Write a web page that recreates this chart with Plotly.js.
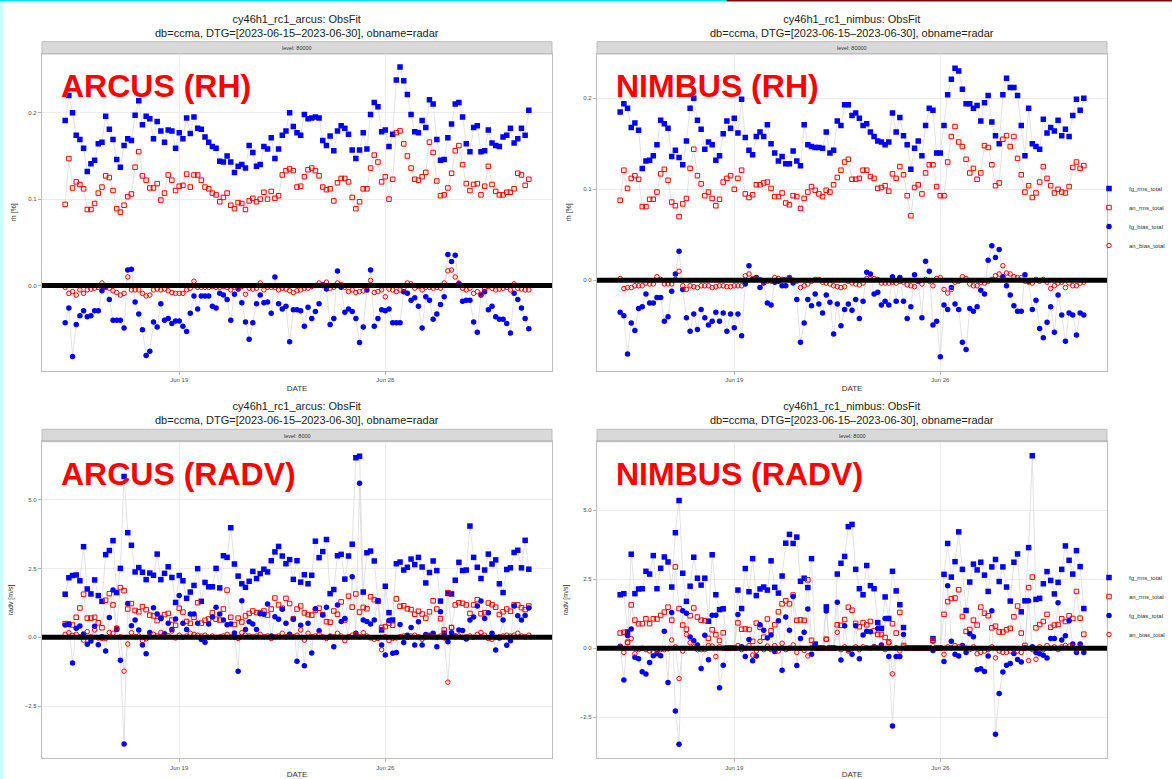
<!DOCTYPE html>
<html><head><meta charset="utf-8">
<script src="https://cdn.plot.ly/plotly-3.0.1.min.js"></script>
<style>html,body{margin:0;padding:0;background:#fff;overflow:hidden}#chart{width:1172px;height:779px}</style>
</head><body><div id="chart"></div>
<script>
// ---- time axis: 3-hourly analysis times, 2023-06-15 03 UTC ... 2023-06-30 21 UTC
const nTimes = 127;
const times = [];
for (let i = 0; i < nTimes; i++) {
  const d = new Date(Date.UTC(2023, 5, 15, 3 + 3 * i));
  times.push(d.toISOString().slice(0, 16).replace('T', ' '));
}
const seriesNames = ['fg_rms_total', 'an_rms_total', 'fg_bias_total', 'an_bias_total'];
const xTickVals = ['2023-06-19', '2023-06-26'];
const xTickText = ['Jun 19', 'Jun 26'];

// ---- ARCUS, rh, level 80000
const arcusRhFgRms = [0.191,0.220,0.200,0.174,0.169,0.159,0.132,0.141,0.145,0.164,
0.166,0.196,0.181,0.169,0.146,0.137,0.162,0.170,0.168,0.197,
0.214,0.186,0.196,0.193,0.170,0.190,0.179,0.166,0.180,0.179,
0.159,0.177,0.170,0.194,0.176,0.195,0.182,0.181,0.172,0.166,
0.161,0.159,0.144,0.143,0.150,0.143,0.131,0.138,0.140,0.136,
0.162,0.154,0.138,0.140,0.161,0.158,0.171,0.147,0.158,0.174,
0.179,0.200,0.184,0.177,0.174,0.198,0.193,0.194,0.195,0.194,
0.168,0.162,0.173,0.156,0.179,0.185,0.182,0.175,0.157,0.147,
0.157,0.177,0.158,0.198,0.212,0.207,0.178,0.180,0.161,0.175,
0.238,0.253,0.237,0.221,0.198,0.178,0.177,0.191,0.183,0.215,
0.210,0.169,0.145,0.146,0.171,0.187,0.210,0.212,0.195,0.164,
0.155,0.183,0.185,0.155,0.156,0.180,0.165,0.162,0.161,0.172,
0.174,0.182,0.165,0.170,0.182,0.174,0.203];
const arcusRhAnRms = [0.094,0.147,0.113,0.120,0.117,0.112,0.088,0.088,0.095,0.107,
0.114,0.127,0.125,0.110,0.089,0.085,0.093,0.103,0.106,0.137,
0.155,0.127,0.122,0.113,0.113,0.118,0.099,0.107,0.128,0.122,
0.110,0.115,0.116,0.129,0.114,0.128,0.128,0.122,0.114,0.112,
0.107,0.105,0.097,0.102,0.107,0.093,0.089,0.096,0.095,0.088,
0.098,0.101,0.097,0.100,0.108,0.100,0.109,0.101,0.104,0.128,
0.133,0.135,0.133,0.114,0.115,0.126,0.134,0.136,0.133,0.127,
0.114,0.111,0.112,0.098,0.119,0.124,0.124,0.120,0.102,0.089,
0.097,0.112,0.112,0.136,0.151,0.143,0.120,0.126,0.100,0.123,
0.177,0.179,0.164,0.150,0.136,0.123,0.122,0.126,0.131,0.166,
0.154,0.121,0.104,0.105,0.113,0.130,0.156,0.162,0.140,0.118,
0.110,0.117,0.118,0.105,0.115,0.138,0.117,0.109,0.105,0.105,
0.108,0.108,0.112,0.130,0.128,0.116,0.123];
const arcusRhFgBias = [-0.043,-0.026,-0.082,-0.045,-0.035,-0.029,-0.036,-0.035,-0.029,-0.029,
-0.006,-0.002,-0.016,-0.040,-0.040,-0.040,-0.049,0.018,0.019,-0.019,
-0.033,-0.051,-0.081,-0.076,-0.042,-0.048,-0.021,-0.040,-0.038,-0.044,
-0.041,-0.041,-0.047,-0.053,-0.032,-0.012,-0.027,-0.012,-0.012,-0.012,
-0.024,-0.026,-0.009,-0.011,-0.016,-0.040,-0.010,-0.004,-0.020,-0.042,
-0.062,-0.043,-0.021,-0.011,-0.020,-0.019,-0.032,0.010,-0.021,-0.027,
-0.024,-0.065,-0.028,-0.028,-0.029,-0.047,-0.025,-0.038,-0.030,-0.021,
0.001,-0.004,-0.045,-0.038,0.017,-0.002,-0.031,-0.027,-0.030,-0.038,
-0.066,-0.048,-0.005,0.018,-0.047,-0.038,-0.028,-0.029,-0.027,-0.043,
-0.043,-0.043,-0.007,-0.009,-0.017,-0.014,-0.024,-0.049,-0.013,-0.017,
-0.039,-0.033,-0.022,-0.013,0.036,0.028,0.035,0.002,-0.018,-0.017,
-0.017,-0.042,-0.054,-0.011,-0.007,-0.028,-0.024,-0.036,-0.039,-0.039,
-0.044,-0.055,-0.009,-0.016,-0.026,-0.038,-0.050];
const arcusRhAnBias = [-0.002,-0.009,-0.007,-0.011,-0.005,-0.009,-0.005,-0.004,-0.003,-0.002,
0.003,-0.002,-0.003,-0.006,-0.008,-0.011,-0.009,0.010,-0.005,-0.005,
-0.005,-0.009,-0.012,-0.011,-0.005,-0.004,-0.005,-0.004,-0.006,-0.008,
-0.009,-0.009,-0.009,-0.005,-0.003,0.005,-0.002,-0.002,-0.002,-0.002,
-0.001,-0.002,-0.002,-0.001,-0.002,-0.005,-0.002,-0.003,-0.001,-0.010,
-0.003,-0.004,-0.003,0.003,-0.005,-0.002,-0.002,-0.002,-0.005,-0.003,
-0.004,-0.006,-0.008,-0.006,-0.005,-0.003,-0.003,-0.001,0.000,0.003,
0.000,0.004,-0.003,-0.002,0.003,0.001,-0.002,-0.007,-0.005,-0.008,
-0.007,-0.006,-0.001,0.006,-0.008,-0.007,-0.005,-0.013,-0.004,-0.005,
-0.007,-0.005,-0.003,0.003,0.002,-0.003,-0.001,-0.005,-0.002,-0.002,
-0.003,-0.002,-0.003,0.003,0.017,0.018,0.010,0.003,-0.003,-0.005,
-0.003,-0.009,-0.007,-0.010,-0.004,-0.001,-0.003,-0.005,-0.004,-0.003,
-0.002,-0.005,0.002,-0.003,-0.004,-0.005,-0.005];

// ---- NIMBUS, rh, level 80000
const nimbusRhFgRms = [0.185,0.194,0.189,0.168,0.173,0.165,0.123,0.131,0.132,0.137,
0.149,0.176,0.172,0.167,0.136,0.143,0.135,0.127,0.153,0.189,
0.200,0.176,0.166,0.144,0.152,0.149,0.132,0.137,0.161,0.175,
0.167,0.178,0.162,0.199,0.157,0.143,0.138,0.158,0.163,0.158,
0.171,0.150,0.140,0.131,0.136,0.128,0.128,0.142,0.131,0.126,
0.171,0.149,0.147,0.146,0.146,0.145,0.163,0.140,0.143,0.175,
0.170,0.193,0.193,0.181,0.184,0.178,0.170,0.172,0.163,0.158,
0.153,0.152,0.149,0.152,0.184,0.163,0.179,0.159,0.149,0.122,
0.145,0.153,0.137,0.170,0.189,0.187,0.140,0.140,0.170,0.204,
0.221,0.233,0.230,0.210,0.194,0.194,0.189,0.192,0.175,0.195,
0.203,0.174,0.159,0.150,0.204,0.222,0.212,0.212,0.203,0.170,
0.137,0.189,0.150,0.147,0.144,0.177,0.162,0.168,0.164,0.176,
0.159,0.166,0.158,0.181,0.199,0.187,0.200];
const nimbusRhAnRms = [0.088,0.121,0.101,0.112,0.115,0.111,0.081,0.081,0.089,0.089,
0.097,0.117,0.122,0.110,0.086,0.082,0.070,0.084,0.090,0.123,
0.144,0.115,0.106,0.093,0.097,0.090,0.082,0.089,0.108,0.112,
0.115,0.100,0.112,0.121,0.095,0.091,0.094,0.105,0.105,0.107,
0.108,0.101,0.092,0.092,0.096,0.085,0.083,0.093,0.092,0.079,
0.090,0.097,0.103,0.099,0.095,0.092,0.099,0.097,0.105,0.113,
0.121,0.130,0.133,0.111,0.111,0.112,0.121,0.121,0.114,0.112,
0.101,0.102,0.104,0.098,0.117,0.112,0.125,0.116,0.093,0.071,
0.102,0.105,0.095,0.118,0.127,0.127,0.103,0.093,0.093,0.130,
0.158,0.169,0.152,0.147,0.133,0.118,0.123,0.111,0.118,0.148,
0.146,0.127,0.104,0.107,0.155,0.159,0.147,0.158,0.134,0.116,
0.097,0.104,0.091,0.096,0.108,0.125,0.112,0.104,0.096,0.100,
0.097,0.096,0.103,0.124,0.130,0.123,0.126];
const nimbusRhFgBias = [-0.035,-0.039,-0.081,-0.047,-0.055,-0.031,-0.029,-0.015,-0.025,-0.025,
-0.019,-0.019,-0.045,-0.040,-0.012,0.007,0.032,-0.010,-0.041,-0.056,
-0.037,-0.054,-0.032,-0.041,-0.049,-0.045,-0.035,-0.045,-0.036,-0.056,
-0.037,-0.052,-0.037,-0.061,-0.004,0.016,0.001,0.003,-0.008,-0.003,
-0.025,-0.027,-0.002,-0.001,-0.006,-0.006,0.003,-0.003,-0.021,-0.068,
-0.047,-0.021,-0.028,-0.015,-0.026,-0.036,-0.016,-0.024,-0.059,-0.026,
-0.050,-0.032,-0.026,-0.033,-0.021,-0.042,-0.023,0.009,0.007,-0.015,
-0.013,-0.027,-0.023,-0.027,0.004,-0.023,0.003,-0.023,-0.042,-0.029,
0.006,-0.001,-0.041,0.021,0.010,-0.049,-0.045,-0.084,-0.027,-0.032,
-0.008,-0.026,-0.032,-0.068,-0.076,-0.031,-0.034,-0.029,-0.011,-0.015,
0.022,0.038,0.025,0.034,0.004,-0.006,-0.016,-0.028,-0.034,-0.034,
0.006,-0.001,-0.032,-0.022,-0.053,-0.063,-0.046,-0.029,-0.057,-0.016,
-0.038,-0.067,-0.036,-0.038,-0.060,-0.036,-0.038];
const nimbusRhAnBias = [0.002,-0.009,-0.008,-0.008,-0.006,-0.006,-0.006,-0.003,-0.004,-0.004,
0.004,0.001,-0.004,-0.004,-0.004,0.001,0.010,-0.006,-0.010,-0.006,
-0.007,-0.008,-0.006,-0.006,-0.006,-0.008,-0.007,-0.006,-0.006,-0.007,
-0.007,-0.006,-0.006,-0.006,0.005,0.007,0.002,0.002,0.001,-0.002,
-0.001,-0.001,0.003,0.002,0.001,0.001,0.003,0.000,-0.001,-0.008,
-0.006,-0.004,-0.001,0.001,0.001,-0.002,-0.003,-0.004,-0.006,-0.007,
-0.008,-0.007,-0.001,-0.003,-0.004,-0.005,-0.003,0.002,0.002,0.002,
0.001,-0.003,-0.003,-0.003,-0.002,-0.003,-0.001,-0.002,-0.005,-0.006,
-0.007,-0.001,-0.004,0.001,-0.001,-0.006,0.002,0.003,-0.010,-0.014,
-0.010,-0.002,-0.001,0.004,0.002,-0.004,-0.006,-0.006,-0.002,-0.003,
-0.001,0.001,0.005,0.007,0.016,0.008,0.007,0.004,0.003,0.003,
-0.001,-0.002,-0.003,0.001,-0.001,0.001,-0.002,-0.009,-0.006,-0.003,
-0.002,-0.008,-0.003,-0.006,-0.006,-0.003,-0.002];

// ---- ARCUS, radv, level 8000
const arcusRadvFgRms = [1.57,2.17,2.25,2.27,2.06,3.30,1.76,1.58,2.09,1.52,
1.31,3.01,3.16,3.52,1.63,2.51,5.85,3.81,3.35,2.38,
2.54,2.37,2.10,2.34,2.26,3.03,2.10,2.33,2.57,2.18,
1.27,2.25,2.06,1.42,1.65,1.89,2.50,1.31,2.00,1.84,
1.84,2.51,1.80,2.97,2.91,3.99,2.67,2.23,1.95,1.82,
2.04,2.40,2.14,2.32,2.48,2.38,2.79,3.11,3.31,2.96,
2.68,2.83,2.11,2.79,2.01,2.28,1.95,2.26,3.50,2.90,
3.12,3.56,1.59,1.74,2.97,3.02,2.12,2.96,3.39,6.54,
6.59,1.65,3.08,3.14,2.78,1.32,0.27,1.86,0.90,0.63,
2.68,2.74,2.45,2.55,2.85,2.65,2.91,2.56,1.98,2.36,
2.78,2.43,1.32,0.15,1.60,1.58,2.08,2.73,2.43,2.45,
4.05,2.91,2.55,2.14,2.45,3.03,2.67,2.82,1.95,1.63,
2.47,2.53,3.09,3.17,2.53,3.53,2.48];
const arcusRadvAnRms = [0.50,0.49,0.45,0.73,1.07,1.57,0.70,0.70,0.73,0.53,
0.35,1.35,1.59,1.18,0.32,1.81,1.70,1.03,1.23,0.98,
0.93,1.12,1.01,0.81,0.78,0.61,0.72,0.83,0.87,0.63,
0.44,1.06,0.92,0.58,0.51,0.73,1.26,0.52,0.62,0.67,
0.90,0.66,0.63,1.03,1.72,0.73,0.47,0.70,0.56,0.78,
0.87,0.96,0.90,0.90,0.96,0.81,1.03,1.43,1.18,1.06,
1.42,1.23,0.68,1.03,1.14,0.89,0.83,0.81,0.98,1.06,
0.83,0.57,0.55,0.96,0.84,1.29,0.63,1.50,1.10,1.58,
0.92,1.09,1.04,1.48,1.37,1.31,0.36,0.39,0.51,0.44,
1.40,1.13,1.15,1.04,1.01,0.84,0.95,0.85,0.70,0.93,
1.33,1.03,0.68,0.27,1.63,0.36,1.18,1.26,1.24,1.18,
0.87,1.18,1.37,0.86,0.90,1.25,1.19,1.10,0.83,0.93,
1.03,0.95,1.18,1.18,1.08,1.01,1.14];
const arcusRadvFgBias = [0.45,0.47,-0.93,0.33,0.41,0.12,-0.25,-0.13,0.40,-0.27,
0.02,-0.50,0.72,1.72,0.29,-0.83,-3.88,1.23,0.42,0.63,
0.27,-0.28,-0.60,0.18,1.08,0.85,0.69,0.13,0.51,0.29,
0.67,1.52,0.51,0.29,0.85,0.85,0.51,-0.08,-0.18,0.49,
0.74,1.10,0.85,0.63,0.46,0.49,0.16,-1.23,1.33,0.29,
0.57,0.49,0.29,0.86,0.84,1.21,0.05,0.75,0.66,1.02,
0.51,0.11,0.66,-0.87,0.44,-1.03,0.51,-0.57,1.04,0.24,
0.81,1.10,0.02,-0.34,1.18,0.58,0.69,0.02,2.21,0.15,
5.61,0.63,0.58,0.49,0.63,1.33,-0.28,-0.64,0.61,-0.58,
-0.55,0.47,-0.19,0.08,0.36,-0.28,0.57,-0.28,0.10,0.08,
0.15,-0.34,0.93,0.05,-0.16,0.17,0.05,0.27,0.25,-0.06,
0.63,0.74,1.14,1.32,0.69,0.90,0.15,-0.46,-0.02,0.63,
-0.29,-0.12,1.14,0.79,0.63,0.80,1.07];
const arcusRadvAnBias = [0.11,0.17,0.07,0.11,0.02,-0.10,0.21,0.02,0.27,-0.02,
-0.04,-0.04,0.18,0.15,0.34,0.02,-1.23,-0.24,0.17,0.02,
0.05,-0.12,-0.05,0.05,0.11,0.05,0.18,0.02,0.06,0.23,
-0.02,0.08,0.00,0.05,0.15,0.11,0.08,0.05,0.08,0.00,
0.05,0.00,0.02,0.05,0.11,0.02,0.00,-0.04,0.17,0.08,
0.05,0.02,0.05,0.11,0.02,0.05,-0.04,0.02,0.05,0.15,
0.02,0.05,0.02,0.08,0.27,-0.10,0.15,0.02,0.05,0.11,
0.02,-0.04,0.05,0.02,0.15,0.05,-0.12,0.02,0.08,0.11,
0.02,0.17,0.05,-0.02,-0.07,-0.04,-0.45,0.02,-0.12,-0.04,
-0.02,0.02,0.05,0.00,0.05,0.08,0.02,-0.07,0.02,0.05,
0.02,0.00,0.05,-0.02,-1.63,0.36,0.02,0.05,0.00,0.02,
0.05,0.00,0.11,0.18,0.08,-0.04,-0.07,0.00,0.02,0.05,
0.08,0.05,0.08,0.15,0.05,0.02,0.08];

// ---- NIMBUS, radv, level 8000
const nimbusRadvFgRms = [1.94,1.98,0.59,3.41,1.98,2.15,2.16,2.79,2.69,3.36,
2.16,2.90,3.31,3.13,2.22,4.19,5.36,2.72,1.70,2.25,
3.30,2.54,2.29,2.54,0.98,3.39,1.94,1.40,1.43,0,
0,0,2.11,1.44,2.89,2.05,3.25,1.91,2.15,2.22,
2.11,3.17,2.21,2.00,2.62,3.81,4.13,3.80,4.03,2.43,
2.54,2.20,3.25,0.15,0,0,1.50,0,0,2.69,
3.08,3.33,4.41,4.49,2.86,2.16,1.94,3.00,2.27,2.16,
0.93,0.72,1.86,1.08,2.79,2.08,1.58,0.75,0,0,
0,0,0,0,0,0.35,0,0,2.68,3.80,
2.58,3.14,4.22,2.86,1.37,2.40,3.05,2.84,3.12,2.65,
2.06,2.95,3.22,2.42,2.95,2.22,1.71,3.12,3.42,1.32,
1.72,3.65,6.98,1.77,1.81,2.34,2.78,2.46,1.97,2.39,
2.86,3.71,3.19,2.69,3.54,2.96,1.44];
const nimbusRadvAnRms = [0.55,0.58,0.22,1.57,1.02,0.89,0.89,1.07,0.89,1.07,
1.06,1.19,1.31,1.49,1.02,2.95,1.44,0.84,0.69,1.18,
1.46,1.13,1.02,1.00,0.36,0.67,0.49,0.28,0.56,0,
0,0,0.92,0.69,0.70,0.68,0.25,0.91,0.76,0.40,
1.06,0.63,0.85,1.32,1.61,1.72,1.61,1.93,1.01,1.03,
1.01,2.48,0.29,0.05,0,0,0.33,0,0,0.85,
0.83,1.04,1.49,1.38,0.90,0.78,0.93,0.85,0.97,0.63,
0.50,0.50,0.39,0.23,0.89,0.55,1.30,0.10,0,0,
0,0,0,0,0,0.29,0,0,1.23,1.69,
1.80,1.82,2.12,1.15,0.61,0.68,1.02,0.84,1.49,1.27,
1.18,0.74,0.80,0.59,0.59,0.67,0.72,1.14,1.53,0.55,
0.10,2.20,2.58,0.74,0.86,0.97,1.23,0.76,0.84,0.86,
1.07,0.97,1.18,1.08,2.06,1.09,0.51];
const nimbusRadvFgBias = [0.07,-1.15,0.46,0.70,-0.33,-0.38,-0.85,-0.93,-0.52,-0.27,
-0.20,-0.27,0.62,-1.24,1.30,-2.28,-3.48,1.36,1.27,0.41,
0.27,0.12,-0.73,0.47,-0.42,1.20,1.20,-1.43,-0.62,0,
0,0,1.22,0.05,-0.30,0.32,-0.45,-0.28,0.85,0.65,
0.37,0.48,-0.12,1.00,-0.80,1.13,0.65,1.88,-0.63,0.35,
0.58,1.42,-0.22,0.12,0,0,1.35,0,0,1.67,
-0.43,0.82,-0.05,-0.22,0.82,-0.38,0.48,0.62,0.60,0.05,
0.72,0.12,1.08,-0.30,-2.82,-0.30,-0.30,0.50,0,0,
0,0,0,0,0,-0.08,0,0,-0.48,2.27,
0.25,-0.22,-0.28,0.10,-0.15,0.53,0.42,-0.78,-0.74,-0.84,
-0.28,1.36,-3.12,-1.64,-0.86,-0.62,-0.55,-0.19,-0.41,-0.50,
0.02,1.72,0.05,-0.15,-0.20,-0.25,-0.35,0.35,0.35,1.65,
0.30,0.45,1.00,0.15,-0.15,0.15,-0.15];
const nimbusRadvAnBias = [0.05,-0.15,0.20,0.35,-0.20,-0.05,0.00,-0.05,-0.10,-0.12,
-0.08,-0.05,-0.05,-0.02,0.30,0.05,-1.10,-0.10,0.50,0.20,
0.05,-0.05,-0.05,-0.05,0.10,0.08,-0.30,0.05,0,0,
0,0,0.10,-0.05,0.00,0.10,-0.25,-0.10,0.25,-0.05,
0.08,-0.05,0.10,-0.10,0.18,-0.05,0.00,0.12,-0.15,0.00,
-0.08,-0.28,0.02,0.00,0,0,0.32,0,0,0.58,
-0.05,0.05,-0.10,-0.02,0.05,-0.05,0.05,0.02,0.00,0.05,
0.02,0.05,-0.05,0.20,-0.93,0.02,-0.10,0.05,0,0,
0,0,0,0,0,0.25,0,0,-0.22,0.05,
0.02,0.10,0.05,0.05,0.00,-0.05,0.05,-0.20,-0.15,-0.10,
-0.05,0.05,-0.35,-0.10,-0.15,-0.15,-0.10,-0.05,-0.10,-0.15,
0.00,-0.45,-0.05,-0.40,0.05,-0.05,0.10,0.00,0.05,-0.05,
0.05,0.10,0.08,0.05,-0.05,0.05,0.00];

// ---------------------------------------------------------------
const W = 1172, H = 779;
const PX = p => p / W, PY = p => 1 - p / H;
const FONT = 'Liberation Sans, Arial, Helvetica, sans-serif';

const styles = [
  {symbol: 'square', color: '#0000ff', size: 5.5, lw: 0},
  {symbol: 'square-open', color: '#ff0000', size: 4.5, lw: 1},
  {symbol: 'circle', color: '#0000ff', size: 5.5, lw: 0},
  {symbol: 'circle-open', color: '#ff0000', size: 4.5, lw: 1}
];

const panels = [
  {data: [arcusRhFgRms, arcusRhAnRms, arcusRhFgBias, arcusRhAnBias], left: 42, right: 552, strip: 41.7, top: 54, bottom: 370.7,
   yrange: [-0.0985, 0.268], dtick: 0.1, ytitle: 'rh [%]', level: 'level: 80000', label: 'ARCUS (RH)',
   title: 'cy46h1_rc1_arcus: ObsFit', legend: null},
  {data: [nimbusRhFgRms, nimbusRhAnRms, nimbusRhFgBias, nimbusRhAnBias], left: 597, right: 1107, strip: 41.7, top: 54, bottom: 370.7,
   yrange: [-0.0993, 0.2487], dtick: 0.1, ytitle: 'rh [%]', level: 'level: 80000', label: 'NIMBUS (RH)',
   title: 'cy46h1_rc1_nimbus: ObsFit', legend: 'legend'},
  {data: [arcusRadvFgRms, arcusRadvAnRms, arcusRadvFgBias, arcusRadvAnBias], left: 42, right: 552, strip: 429.3, top: 441.7, bottom: 758,
   yrange: [-4.39, 7.12], dtick: 2.5, ytitle: 'radv [m/s]', level: 'level: 8000', label: 'ARCUS (RADV)',
   title: 'cy46h1_rc1_arcus: ObsFit', legend: null},
  {data: [nimbusRadvFgRms, nimbusRadvAnRms, nimbusRadvFgBias, nimbusRadvAnBias], left: 597, right: 1107, strip: 429.3, top: 441.7, bottom: 758,
   yrange: [-3.98, 7.49], dtick: 2.5, ytitle: 'radv [m/s]', level: 'level: 8000', label: 'NIMBUS (RADV)',
   title: 'cy46h1_rc1_nimbus: ObsFit', legend: 'legend2'}
];
const subtitle = 'db=ccma, DTG=[2023-06-15–2023-06-30], obname=radar';

const traces = [];
const layout = {
  width: W, height: H, margin: {l: 0, r: 0, t: 0, b: 0, autoexpand: false},
  paper_bgcolor: '#ffffff', plot_bgcolor: '#ffffff',
  font: {family: FONT, color: '#333333'},
  showlegend: true,
  shapes: [], annotations: []
};

panels.forEach((p, i) => {
  const n = i === 0 ? '' : String(i + 1);
  const xa = 'x' + n, ya = 'y' + n;
  // grey connecting lines
  p.data.forEach(vals => {
    traces.push({type: 'scatter', mode: 'lines', x: times, y: vals, xaxis: xa, yaxis: ya,
      line: {color: '#d6d6d6', width: 0.7}, showlegend: false, hoverinfo: 'skip'});
  });
  // markers
  p.data.forEach((vals, k) => {
    const s = styles[k];
    const t = {type: 'scatter', mode: 'markers', name: seriesNames[k], x: times, y: vals, xaxis: xa, yaxis: ya,
      marker: {symbol: s.symbol, color: s.color, size: s.size, line: {color: s.color, width: s.lw}},
      showlegend: !!p.legend};
    if (p.legend) t.legend = p.legend;
    traces.push(t);
  });

  layout['xaxis' + n] = {
    domain: [PX(p.left), PX(p.right)], anchor: ya, type: 'date',
    range: ['2023-06-14 08:06', '2023-07-01 15:54'],
    tickmode: 'array', tickvals: xTickVals, ticktext: xTickText,
    ticks: 'outside', ticklen: 3, tickwidth: 1, tickcolor: '#b3b3b3',
    tickfont: {size: 6, color: '#4d4d4d', family: FONT},
    showgrid: true, gridcolor: '#ececec', gridwidth: 1, zeroline: false,
    showline: true, mirror: true, linecolor: '#bdbdbd', linewidth: 1.3,
    title: {text: 'DATE', font: {size: 8, color: '#333333', family: FONT}, standoff: 3}
  };
  layout['yaxis' + n] = {
    domain: [PY(p.bottom), PY(p.top)], anchor: xa, range: p.yrange,
    tickmode: 'linear', tick0: 0, dtick: p.dtick, tickformat: '.1f',
    ticks: 'outside', ticklen: 3, tickwidth: 1, tickcolor: '#b3b3b3',
    tickfont: {size: 6, color: '#4d4d4d', family: FONT},
    showgrid: true, gridcolor: '#ececec', gridwidth: 1, zeroline: false,
    showline: true, mirror: true, linecolor: '#bdbdbd', linewidth: 1.3,
    title: {text: p.ytitle, font: {size: 7, color: '#333333', family: FONT}, standoff: 10}
  };

  // thick black reference line at zero
  layout.shapes.push({type: 'line', xref: xa + ' domain', x0: 0, x1: 1, yref: ya, y0: 0, y1: 0,
    line: {color: '#000000', width: 5}, layer: 'above'});
  // facet strip
  layout.shapes.push({type: 'rect', xref: 'paper', yref: 'paper', x0: PX(p.left), x1: PX(p.right),
    y0: PY(p.top), y1: PY(p.strip), fillcolor: '#d9d9d9', line: {color: '#bdbdbd', width: 1}, layer: 'below'});
  layout.annotations.push({xref: 'paper', yref: 'paper', x: PX((p.left + p.right) / 2), y: PY((p.strip + p.top) / 2),
    text: p.level, showarrow: false, font: {size: 5.5, color: '#333333', family: FONT}, xanchor: 'center', yanchor: 'middle'});
  // titles
  layout.annotations.push({xref: 'paper', yref: 'paper', x: PX((p.left + p.right) / 2), y: PY(p.strip - 1),
    text: p.title + '<br>' + subtitle, showarrow: false, align: 'center',
    font: {size: 11, color: '#222222', family: FONT}, xanchor: 'center', yanchor: 'bottom'});
  // big red panel label
  layout.annotations.push({xref: 'paper', yref: 'paper', x: PX(p.left + 17), y: PY(p.top + 32),
    text: '<b>' + p.label + '</b>', showarrow: false,
    font: {size: 32, color: '#ff0000', family: FONT}, xanchor: 'left', yanchor: 'middle'});
});

layout.legend = {x: PX(1089), y: PY(174), xanchor: 'left', yanchor: 'top', bgcolor: 'rgba(0,0,0,0)',
  font: {size: 6, color: '#333333', family: FONT}, itemwidth: 30, traceorder: 'normal'};
layout.legend2 = {x: PX(1089), y: PY(563), xanchor: 'left', yanchor: 'top', bgcolor: 'rgba(0,0,0,0)',
  font: {size: 6, color: '#333333', family: FONT}, itemwidth: 30, traceorder: 'normal'};

// screenshot frame edges
layout.shapes.push({type: 'rect', xref: 'paper', yref: 'paper', x0: 0, x1: PX(3.5), y0: 0, y1: 1,
  fillcolor: '#c8ffff', line: {width: 0}, layer: 'above'});
layout.shapes.push({type: 'rect', xref: 'paper', yref: 'paper', x0: 0, x1: 0.62, y0: PY(1.5), y1: 1,
  fillcolor: '#00e5e5', line: {width: 0}, layer: 'above'});
layout.shapes.push({type: 'rect', xref: 'paper', yref: 'paper', x0: 0.62, x1: 1, y0: PY(1.5), y1: 1,
  fillcolor: '#7a0a0a', line: {width: 0}, layer: 'above'});

Plotly.newPlot('chart', traces, layout, {displayModeBar: false, staticPlot: true});
</script></body></html>
